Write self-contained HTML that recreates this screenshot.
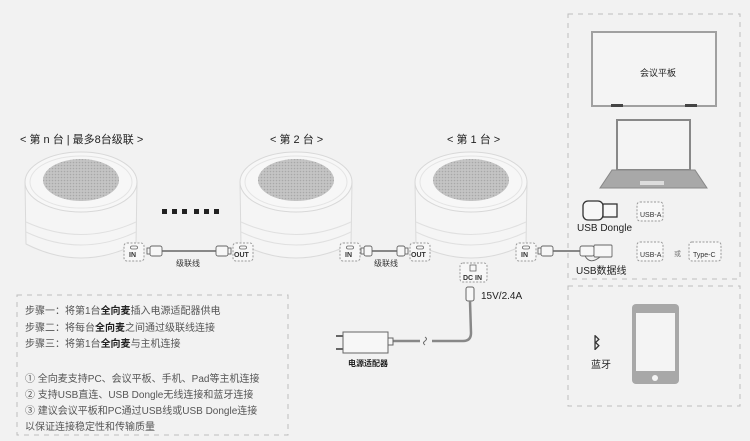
<!DOCTYPE html>
<html><head><meta charset="utf-8"><style>
html,body{margin:0;padding:0;background:#f2f2f2;}
svg{display:block}
text{font-family:"Liberation Sans","Noto Sans CJK SC",sans-serif;}
</style></head><body>
<svg width="750" height="441" viewBox="0 0 750 441" xmlns="http://www.w3.org/2000/svg">
<defs>
<pattern id="dots" width="3" height="3" patternUnits="userSpaceOnUse">
<rect width="3" height="3" fill="#c4c4c4"/><circle cx="1.5" cy="1.5" r="0.8" fill="#a8a8a8"/>
</pattern>
<g id="spk">
<path d="M-56,0 L-55,62 Q0,90 55,62 L56,0" fill="#f5f5f5" stroke="#dadada" stroke-width="1"/>
<path d="M-55,40 Q0,65 55,40" fill="none" stroke="#e0e0e0"/>
<path d="M-55,50 Q0,76 55,50" fill="none" stroke="#e0e0e0"/>
<ellipse cx="0" cy="0" rx="56" ry="30" fill="#f7f7f7" stroke="#d8d8d8"/>
<ellipse cx="0" cy="0" rx="51" ry="26" fill="none" stroke="#e4e4e4"/>
<ellipse cx="0" cy="-2" rx="38" ry="21" fill="url(#dots)"/>
</g>
<g id="port"><rect x="0" y="0" width="20" height="18" rx="3" fill="#f7f7f7" stroke="#999" stroke-dasharray="2,1.5"/><rect x="6.5" y="3" width="7" height="3" rx="1.5" fill="none" stroke="#666" stroke-width="0.8"/></g>
</defs>

<g fill="none" stroke="#bdbdbd" stroke-dasharray="5,5" stroke-width="1">
<rect x="568" y="14" width="172" height="265"/>
<rect x="568" y="286" width="172" height="120"/>
<rect x="17" y="295" width="271" height="140"/>
</g>

<g font-size="11" fill="#222">
<text x="20" y="143">&lt; 第 n 台 | 最多8台级联 &gt;</text>
<text x="270" y="143">&lt; 第 2 台 &gt;</text>
<text x="447" y="143">&lt; 第 1 台 &gt;</text>
</g>

<use href="#spk" x="81" y="182"/>
<use href="#spk" x="296" y="182"/>
<use href="#spk" x="471" y="182"/>

<g fill="#222">
<rect x="162" y="209" width="5" height="5"/><rect x="172" y="209" width="5" height="5"/><rect x="182" y="209" width="5" height="5"/>
<rect x="194" y="209" width="5" height="5"/><rect x="204" y="209" width="5" height="5"/><rect x="214" y="209" width="5" height="5"/>
</g>

<g font-size="7" fill="#333" font-weight="bold">
<use href="#port" x="124" y="243"/><text x="129" y="257">IN</text>
<use href="#port" x="233" y="243"/><text x="234" y="257">OUT</text>
<use href="#port" x="340" y="243"/><text x="345" y="257">IN</text>
<use href="#port" x="410" y="243"/><text x="411" y="257">OUT</text>
<use href="#port" x="516" y="243"/><text x="521" y="257">IN</text>
<rect x="460" y="263" width="27" height="19" rx="3" fill="#f7f7f7" stroke="#999" stroke-dasharray="2,1.5"/>
<rect x="470" y="265" width="6" height="6" fill="none" stroke="#555" stroke-width="0.7"/>
<text x="463" y="280">DC IN</text>
</g>

<g fill="#f7f7f7" stroke="#666" stroke-width="0.9">
<line x1="162" y1="251" x2="216" y2="251" stroke="#888" stroke-width="2"/>
<rect x="150" y="246" width="12" height="10" rx="2"/><rect x="147" y="248" width="3" height="6"/>
<rect x="216" y="246" width="12" height="10" rx="2"/><rect x="228" y="248" width="3" height="6"/>
<line x1="371" y1="251" x2="398" y2="251" stroke="#888" stroke-width="2"/>
<rect x="364" y="246" width="8" height="10" rx="2"/><rect x="361" y="248" width="3" height="6"/>
<rect x="397" y="246" width="8" height="10" rx="2"/><rect x="405" y="248" width="3" height="6"/>
<line x1="552" y1="251" x2="580" y2="251" stroke="#888" stroke-width="2"/>
<rect x="541" y="246" width="12" height="10" rx="2"/><rect x="538" y="248" width="3" height="6"/>
<rect x="580" y="246" width="14" height="10" rx="2"/>
<rect x="594" y="245" width="18" height="12" rx="1"/>
<path d="M585,256 Q590,265 600,257" fill="none"/>
</g>
<g font-size="8" fill="#333">
<text x="176" y="266">级联线</text>
<text x="374" y="266">级联线</text>
</g>
<text x="576" y="274" font-size="10" fill="#222">USB数据线</text>

<rect x="466" y="287" width="8" height="14" rx="2" fill="#f7f7f7" stroke="#666"/>
<text x="481" y="299" font-size="10" fill="#222">15V/2.4A</text>
<path d="M470,301 L471,333 Q471,341 463,341 L432,341" fill="none" stroke="#888" stroke-width="2.5"/>
<path d="M425,337 q3,2 0,4 q-3,2 0,4" fill="none" stroke="#666"/>
<line x1="390" y1="341" x2="420" y2="341" stroke="#888" stroke-width="2.5"/>
<rect x="388" y="338" width="5" height="7" fill="#f7f7f7" stroke="#666"/>
<rect x="343" y="332" width="45" height="21" fill="#f7f7f7" stroke="#666"/>
<line x1="336" y1="336" x2="343" y2="336" stroke="#666" stroke-width="2"/>
<line x1="336" y1="349" x2="343" y2="349" stroke="#666" stroke-width="2"/>
<text x="348" y="366" font-size="8" fill="#222" font-weight="bold">电源适配器</text>

<rect x="592" y="32" width="124" height="74" fill="#f4f4f4" stroke="#a0a0a0" stroke-width="2"/>
<rect x="611" y="104" width="12" height="3" fill="#444"/><rect x="685" y="104" width="12" height="3" fill="#444"/>
<text x="640" y="76" font-size="9" fill="#222">会议平板</text>
<rect x="617" y="120" width="73" height="50" fill="#f4f4f4" stroke="#888" stroke-width="2"/>
<path d="M612,170 L695,170 L707,188 L600,188 Z" fill="#a8a8a8" stroke="#888"/>
<rect x="640" y="181" width="24" height="4" fill="#ddd"/>
<rect x="583" y="201" width="20" height="19" rx="5" fill="#f7f7f7" stroke="#333" stroke-width="1.3"/>
<rect x="603" y="204" width="14" height="13" fill="#f7f7f7" stroke="#333" stroke-width="1.3"/>
<text x="577" y="231" font-size="10" fill="#222">USB Dongle</text>
<g font-size="7" fill="#333">
<rect x="637" y="202" width="26" height="19" rx="3" fill="#f7f7f7" stroke="#999" stroke-dasharray="2,1.5"/>
<text x="640" y="217">USB-A</text>
<rect x="637" y="242" width="26" height="19" rx="3" fill="#f7f7f7" stroke="#999" stroke-dasharray="2,1.5"/>
<text x="640" y="257">USB-A</text>
<text x="674" y="256" fill="#777">或</text>
<rect x="689" y="242" width="32" height="19" rx="3" fill="#f7f7f7" stroke="#999" stroke-dasharray="2,1.5"/>
<text x="693" y="257">Type-C</text>
</g>

<rect x="632" y="304" width="47" height="80" rx="4" fill="#a8a8a8"/>
<rect x="636" y="313" width="39" height="58" fill="#f4f4f4"/>
<circle cx="655" cy="378" r="3" fill="#f4f4f4"/>
<text x="592" y="348" font-size="16" font-weight="bold" fill="#333">ᛒ</text>
<text x="591" y="368" font-size="10" fill="#222">蓝牙</text>

<g font-size="10" fill="#555">
<text x="25" y="314">步骤一：将第1台<tspan font-weight="bold" fill="#222">全向麦</tspan>插入电源适配器供电</text>
<text x="25" y="331">步骤二：将每台<tspan font-weight="bold" fill="#222">全向麦</tspan>之间通过级联线连接</text>
<text x="25" y="347">步骤三：将第1台<tspan font-weight="bold" fill="#222">全向麦</tspan>与主机连接</text>
<text x="25" y="382">① 全向麦支持PC、会议平板、手机、Pad等主机连接</text>
<text x="25" y="398">② 支持USB直连、USB Dongle无线连接和蓝牙连接</text>
<text x="25" y="414">③ 建议会议平板和PC通过USB线或USB Dongle连接</text>
<text x="25" y="430">以保证连接稳定性和传输质量</text>
</g>
</svg>
</body></html>
